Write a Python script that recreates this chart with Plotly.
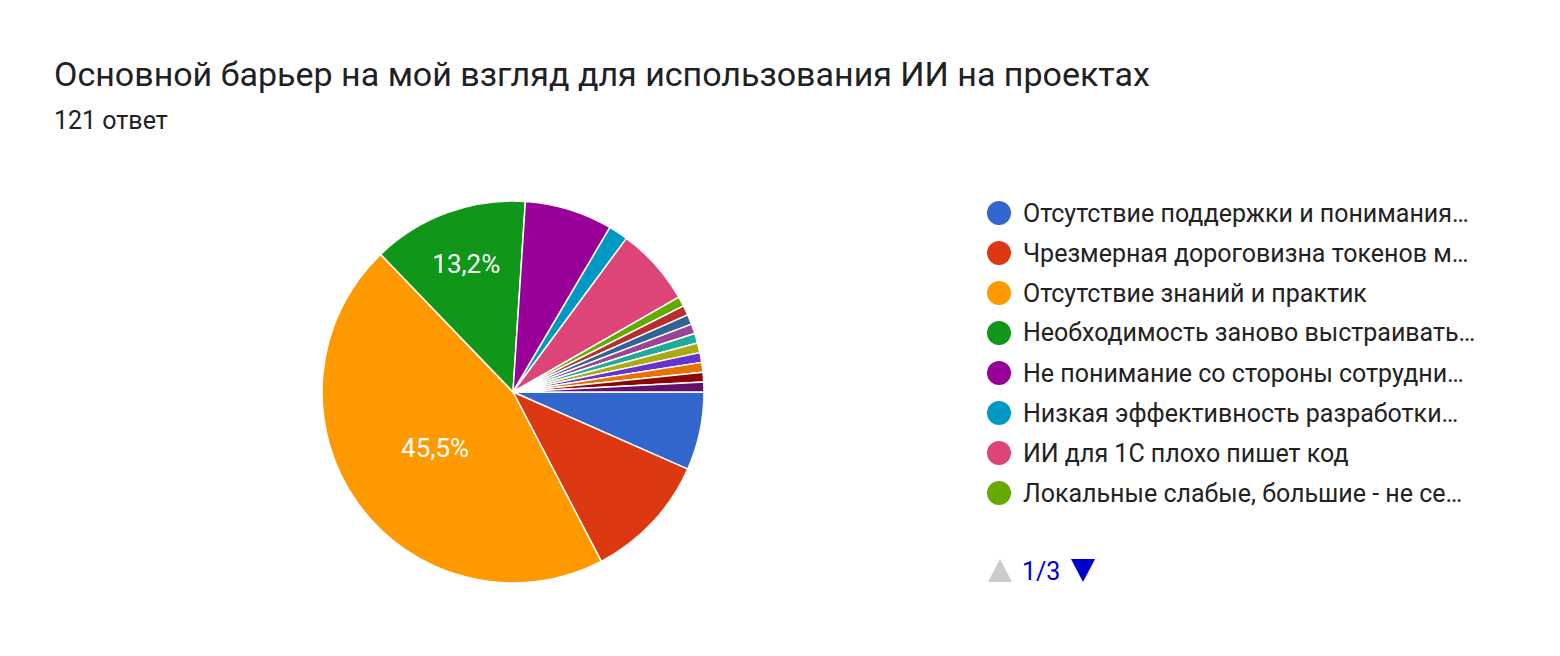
import plotly.graph_objects as go

labels = [
    "Отсутствие поддержки и понимания…",
    "Чрезмерная дороговизна токенов м…",
    "Отсутствие знаний и практик",
    "Необходимость заново выстраивать…",
    "Не понимание со стороны сотрудни…",
    "Низкая эффективность разработки…",
    "ИИ для 1С плохо пишет код",
    "Локальные слабые, большие - не се…",
    "Другое 1", "Другое 2", "Другое 3", "Другое 4", "Другое 5",
    "Другое 6", "Другое 7", "Другое 8", "Другое 9",
]
values = [8, 13, 55, 16, 9, 2, 8, 1, 1, 1, 1, 1, 1, 1, 1, 1, 1]
colors = ["#3366cc", "#dc3912", "#ff9900", "#109618", "#990099", "#0099c6",
          "#dd4477", "#66aa00", "#b82e2e", "#316395", "#994499", "#22aa99",
          "#aaaa11", "#6633cc", "#e67300", "#8b0707", "#651067"]

total = sum(values)
texts = []
for v in values:
    p = v / total * 100
    texts.append(f"{p:.1f}%".replace(".", ",") if p > 12 else "")

W, H = 1560, 656
OX, OY = 8, 8  # page offset compensation


def px(x):
    return (x - OX) / W


def py(y):
    return 1 - (y - OY) / H


fig = go.Figure()
fig.add_trace(go.Pie(
    labels=labels, values=values, sort=False, direction="clockwise", rotation=90,
    marker=dict(colors=colors, line=dict(color="white", width=1.5)),
    text=texts, textinfo="text", textposition="inside",
    insidetextfont=dict(color="white", size=26, family="Roboto"),
    domain=dict(x=[px(513 - 191), px(513 + 191)], y=[py(392 + 191), py(392 - 191)]),
    showlegend=False, hoverinfo="label+percent",
))

shapes = []
annotations = [
    dict(x=px(52), y=py(74), xref="paper", yref="paper", xanchor="left", yanchor="middle",
         text="Основной барьер на мой взгляд для использования ИИ на проектах", showarrow=False,
         font=dict(size=34, color="#202124", family="Roboto")),
    dict(x=px(52), y=py(120), xref="paper", yref="paper", xanchor="left", yanchor="middle",
         text="121 ответ", showarrow=False, font=dict(size=25, color="#202124", family="Roboto")),
]
for i in range(8):
    yc = 213 + i * 40
    shapes.append(dict(type="circle", xref="paper", yref="paper",
                       x0=px(999 - 12), x1=px(999 + 12), y0=py(yc + 12), y1=py(yc - 12),
                       fillcolor=colors[i], line=dict(width=0)))
    annotations.append(dict(x=px(1021), y=py(yc), xref="paper", yref="paper", xanchor="left",
                            yanchor="middle", text=labels[i], showarrow=False,
                            font=dict(size=25, color="#222222", family="Roboto")))
# pager
shapes.append(dict(type="path", xref="paper", yref="paper",
                   path=f"M {px(988)} {py(582)} L {px(1012)} {py(582)} L {px(1000)} {py(559)} Z",
                   fillcolor="#cccccc", line=dict(width=0)))
shapes.append(dict(type="path", xref="paper", yref="paper",
                   path=f"M {px(1071)} {py(559)} L {px(1095)} {py(559)} L {px(1083)} {py(582)} Z",
                   fillcolor="#0000cc", line=dict(width=0)))
annotations.append(dict(x=px(1041), y=py(571), xref="paper", yref="paper", xanchor="center",
                        yanchor="middle", text="1/3", showarrow=False,
                        font=dict(size=25, color="#0000cc", family="Roboto")))

fig.update_layout(width=W, height=H, margin=dict(l=0, r=0, t=0, b=0),
                  paper_bgcolor="white", plot_bgcolor="white",
                  shapes=shapes, annotations=annotations)
fig.write_html("out.html")
